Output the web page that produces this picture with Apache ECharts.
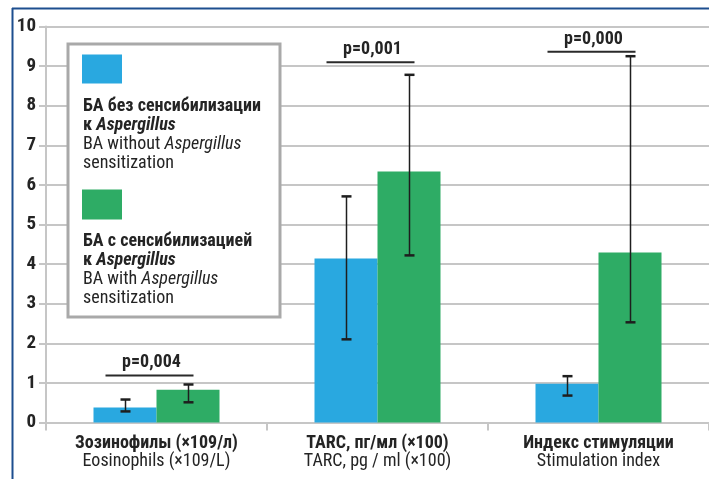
<!DOCTYPE html>
<html><head><meta charset="utf-8">
<script src="https://cdn.jsdelivr.net/npm/echarts@6/dist/echarts.min.js"></script>
<style>html,body{margin:0;padding:0;background:#fff}#c{width:709px;height:479px}</style>
</head><body><div id="c"></div>
<script>
// ---- data ----
const categoriesRu = ['Зозинофилы (×109/л)', 'TARC, пг/мл (×100)', 'Индекс стимуляции'];
const categoriesEn = ['Eosinophils (×109/L)', 'TARC, pg / ml (×100)', 'Stimulation index'];
const withoutValues = [0.38, 4.14, 0.98];
const withoutLow = [0.28, 2.10, 0.68];
const withoutHigh = [0.58, 5.71, 1.17];
const withValues = [0.83, 6.34, 4.29];
const withLow = [0.51, 4.22, 2.53];
const withHigh = [0.96, 8.78, 9.25];
const pLabels = ['p=0,004', 'p=0,001', 'p=0,000'];
const pLevels = [1.19, 9.10, 9.36];
const yMin = 0, yMax = 10, yStep = 1;

// ---- styles ----
const FONT = "'Roboto Condensed','Open Sans Condensed',sans-serif";
const TXT = '#242424';
const BLUE = '#29a8e0';
const GREEN = '#2eac65';
const BAR_W = 63;
const GRID_C = '#c6c6c6';

const chart = echarts.init(document.getElementById('c'), null, {renderer: 'canvas'});

function errData(lo, hi) { return lo.map((v, i) => [i, v, hi[i]]); }

function errRender(offset) {
  return function (params, api) {
    const i = api.value(0);
    const lo = api.coord([i, api.value(1)]);
    const hi = api.coord([i, api.value(2)]);
    const x = Math.round(lo[0] + offset) + 0.5;
    const cw = 5;
    const st = {stroke: '#1e1e1e', lineWidth: 1.5};
    const cst = {stroke: '#1e1e1e', lineWidth: 2.5};
    return {type: 'group', children: [
      {type: 'line', shape: {x1: x, y1: hi[1], x2: x, y2: lo[1]}, style: st},
      {type: 'line', shape: {x1: x - cw, y1: hi[1], x2: x + cw, y2: hi[1]}, style: cst},
      {type: 'line', shape: {x1: x - cw, y1: lo[1], x2: x + cw, y2: lo[1]}, style: cst}
    ]};
  };
}

function pRender(params, api) {
  const i = api.value(0);
  const c = api.coord([i, api.value(1)]);
  const label = pLabels[i];
  return {type: 'group', children: [
    {type: 'line', shape: {x1: c[0] - 51, y1: c[1], x2: c[0] + 37, y2: c[1]}, style: {stroke: '#2a2a2a', lineWidth: 2}},
    {type: 'text', x: c[0] - 5, y: c[1] - 12.5, style: {text: label, fill: TXT, font: 'bold 18px ' + FONT, align: 'center', verticalAlign: 'middle'}}
  ]};
}

const legendRich = {
  b: {fontFamily: FONT, fontWeight: 'bold', fontSize: 18, fill: TXT, lineHeight: 19},
  bi: {fontFamily: FONT, fontWeight: 'bold', fontStyle: 'italic', fontSize: 18, fill: TXT, lineHeight: 19},
  n: {fontFamily: FONT, fontSize: 18, fill: TXT, lineHeight: 19},
  i: {fontFamily: FONT, fontStyle: 'italic', fontSize: 18, fill: TXT, lineHeight: 19}
};

const option = {
  backgroundColor: '#fff',
  animation: false,
  grid: {left: 46, right: -4, top: 26.5, bottom: 56.5},
  xAxis: {
    type: 'category',
    data: categoriesRu,
    axisLine: {lineStyle: {color: GRID_C, width: 2}},
    axisTick: {show: true, length: 8, lineStyle: {color: GRID_C, width: 2}},
    axisLabel: {
      margin: 12,
      formatter: function (v, i) { return '{b|' + v + '}\n{n|' + categoriesEn[i] + '}'; },
      rich: {
        b: {fontFamily: FONT, fontWeight: 'bold', fontSize: 18, color: TXT, lineHeight: 18},
        n: {fontFamily: FONT, fontSize: 18, color: TXT, lineHeight: 18}
      }
    }
  },
  yAxis: {
    type: 'value', min: yMin, max: yMax, interval: yStep,
    axisLine: {show: true, lineStyle: {color: GRID_C, width: 2}},
    axisTick: {show: true, length: 7, lineStyle: {color: GRID_C, width: 2}},
    splitLine: {lineStyle: {color: GRID_C, width: 2}},
    axisLabel: {margin: 10, fontFamily: FONT, fontWeight: 'bold', fontSize: 19, color: TXT}
  },
  series: [
    {type: 'bar', name: 'without', data: withoutValues, barWidth: BAR_W, barGap: '0%', itemStyle: {color: BLUE}, z: 2},
    {type: 'bar', name: 'with', data: withValues, barWidth: BAR_W, barGap: '0%', itemStyle: {color: GREEN}, z: 2},
    {type: 'custom', data: errData(withoutLow, withoutHigh), renderItem: errRender(-BAR_W / 2), encode: {x: 0, y: [1, 2]}, z: 5, clip: false},
    {type: 'custom', data: errData(withLow, withHigh), renderItem: errRender(BAR_W / 2), encode: {x: 0, y: [1, 2]}, z: 5, clip: false},
    {type: 'custom', data: pLevels.map((v, i) => [i, v]), renderItem: pRender, encode: {x: 0, y: 1}, z: 6, clip: false}
  ],
  graphic: [
    {type: 'line', shape: {x1: 12, y1: 8.5, x2: 709, y2: 8.5}, style: {stroke: '#1d4e8f', lineWidth: 2}, z: 100},
    {type: 'line', shape: {x1: 12.5, y1: 8, x2: 12.5, y2: 479}, style: {stroke: '#1d4e8f', lineWidth: 2}, z: 100},
    {type: 'rect', z: 50, shape: {x: 68, y: 44, width: 212, height: 273}, style: {fill: '#fff', stroke: '#a9a9a9', lineWidth: 3}},
    {type: 'rect', z: 51, shape: {x: 82, y: 54.5, width: 40, height: 29}, style: {fill: BLUE}},
    {type: 'rect', z: 51, shape: {x: 82, y: 189.5, width: 40, height: 30}, style: {fill: GREEN}},
    {type: 'text', z: 51, x: 83, y: 97, style: {text: '{b|БА без сенсибилизации}\n{b|к }{bi|Aspergillus}\n{n|BA without }{i|Aspergillus}\n{n|sensitization}', rich: legendRich}},
    {type: 'text', z: 51, x: 83, y: 232, style: {text: '{b|БА с сенсибилизацией}\n{b|к }{bi|Aspergillus}\n{n|BA with }{i|Aspergillus}\n{n|sensitization}', rich: legendRich}}
  ]
};
chart.setOption(option);
</script></body></html>
